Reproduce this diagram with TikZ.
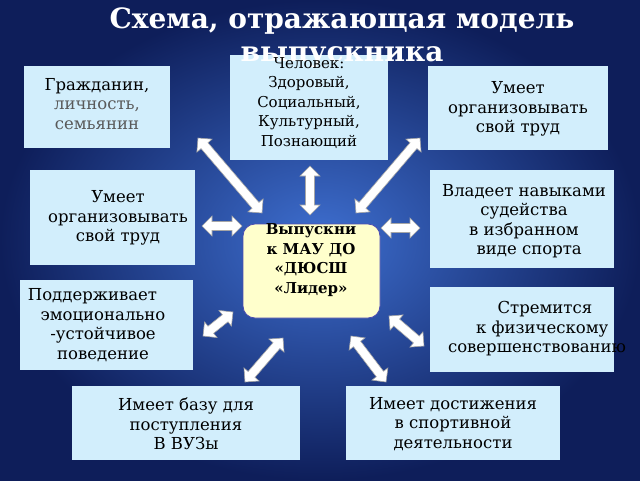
\documentclass[tikz,border=0pt]{standalone}
\usepackage{fontspec}
\setmainfont{DejaVu Serif}
\usetikzlibrary{shapes.arrows,calc}
\definecolor{boxc}{HTML}{D2EEFC}
\definecolor{cen}{HTML}{FFFFCC}
\definecolor{bgin}{HTML}{3E6FD0}
\definecolor{bgout}{HTML}{0E1E5A}
\tikzset{
 boxbg/.style={fill=boxc},
 box/.style={draw=none,align=center,font=\fontsize{16.5}{19.5}\selectfont,inner sep=0pt},
 bar/.style={double arrow,draw=gray!70,fill=white,minimum width=20pt,double arrow head extend=4pt,inner sep=3pt,line width=0.6pt}
}
\newcommand{\barrow}[2]{\path let \p1=(#1),\p2=(#2),\n1={veclen(\x2-\x1,\y2-\y1)},\n2={atan2(\y2-\y1,\x2-\x1)} in node[bar,minimum height=\n1,rotate=\n2] at ($(#1)!0.5!(#2)$) {};}
\begin{document}
\begin{tikzpicture}[x=1pt,y=-1pt]
\shade[inner color=bgin,outer color=bgout] (0,0) rectangle (640,480);
\useasboundingbox (0,0) rectangle (640,480);
\path[boxbg] (230,55) rectangle (388,160);
\node[text=white,font=\fontsize{28}{33}\selectfont\bfseries,align=center] (t) at (342,38) {Схема, отражающая модель\\выпускника};
\path[boxbg] (24,66) rectangle (170,148); \node[box] (b1) at (97,104) {Гражданин,\\\textcolor{black!65}{личность,}\\\textcolor{black!65}{семьянин}};
\node[box,font=\fontsize{15}{19.5}\selectfont] (b2) at (309,103) {Человек:\\Здоровый,\\Социальный,\\Культурный,\\Познающий\hspace{2.5em}};
\path[boxbg] (428,66) rectangle (608,150); \node[box] (b3) at (518,109) {Умеет\\организовывать\\свой труд};
\path[boxbg] (30,170) rectangle (195,265); \node[box] (b4) at (118,218) {Умеет\\организовывать\\свой труд};
\path[boxbg] (430,170) rectangle (614,268); \node[box] (b5) at (524,221) {Владеет навыками\\судейства\\в избранном\\\ \ виде спорта};
\path[boxbg] (20,280) rectangle (193,370); \node[box] (b6) at (103,325) {Поддерживает\ \ \ \ \ \\эмоционально\\-устойчивое\\поведение};
\path[boxbg] (430,287) rectangle (614,372); \node[box] (b7) at (537,329) {\ \ \ Стремится\\\ \ к физическому\\совершенствованию};
\path[boxbg] (72,386) rectangle (300,460); \node[box] (b8) at (186,424) {Имеет базу для\\поступления\\В ВУЗы\hspace{4.5em}};
\path[boxbg] (346,386) rectangle (560,460); \node[box] (b9) at (453,424) {Имеет достижения\\в спортивной\\деятельности};
\node[draw=gray!60!blue,line width=0.8pt,fill=cen,rounded corners=12pt,minimum width=137pt,minimum height=94pt] (c) at (311.5,271) {};
\node[font=\fontsize{15}{19.5}\selectfont\bfseries,align=center] (ct) at (311,260) {Выпускни\\к МАУ ДО\\«ДЮСШ\\«Лидер»};
\coordinate (a1) at (198,138); \coordinate (a2) at (262,213);
\coordinate (a3) at (310,166); \coordinate (a4) at (310,215);
\coordinate (a5) at (420,138); \coordinate (a6) at (356,213);
\coordinate (a7) at (202,226); \coordinate (a8) at (242,226);
\coordinate (a9) at (381,228); \coordinate (a10) at (420,228);
\coordinate (a11) at (203,336); \coordinate (a12) at (233,312);
\coordinate (a13) at (389,316); \coordinate (a14) at (424,346);
\coordinate (a15) at (245,382); \coordinate (a16) at (283,338);
\coordinate (a17) at (351,336); \coordinate (a18) at (386,382);
\barrow{a1}{a2}\barrow{a3}{a4}\barrow{a5}{a6}\barrow{a7}{a8}\barrow{a9}{a10}
\barrow{a11}{a12}\barrow{a13}{a14}\barrow{a15}{a16}\barrow{a17}{a18}
\end{tikzpicture}
\end{document}
